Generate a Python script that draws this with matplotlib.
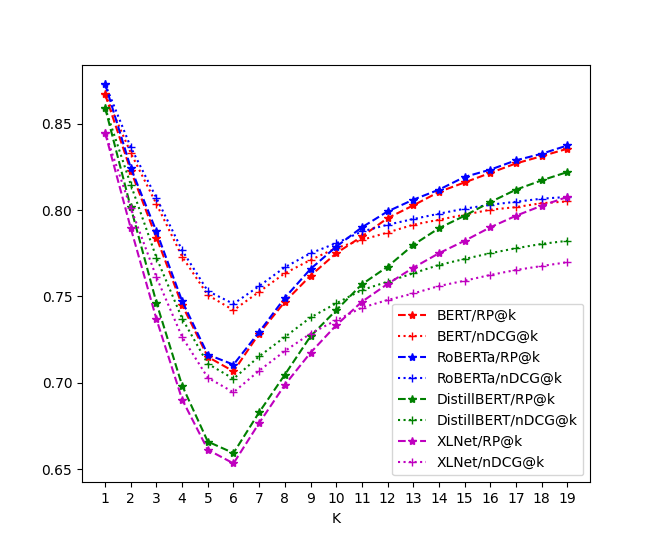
import matplotlib
matplotlib.use("Agg")
import matplotlib.pyplot as plt

K = list(range(1, 20))

bert_rp = [0.867, 0.8228, 0.784, 0.745, 0.715, 0.7066, 0.7285, 0.7469, 0.762, 0.775,
           0.7847, 0.7953, 0.8027, 0.8105, 0.816, 0.8215, 0.827, 0.8312, 0.8355]
bert_ndcg = [0.867, 0.8331, 0.8035, 0.773, 0.7508, 0.742, 0.7527, 0.7634, 0.7711, 0.778,
             0.7827, 0.787, 0.7915, 0.7944, 0.7973, 0.8002, 0.8017, 0.804, 0.805]
roberta_rp = [0.873, 0.8244, 0.7876, 0.7473, 0.7163, 0.7105, 0.7294, 0.7492, 0.7659, 0.7788,
              0.790, 0.7992, 0.806, 0.8118, 0.8192, 0.8234, 0.8288, 0.8326, 0.8374]
roberta_ndcg = [0.873, 0.8364, 0.807, 0.7767, 0.7531, 0.7457, 0.756, 0.7669, 0.775, 0.7808,
                0.7876, 0.7915, 0.7948, 0.7979, 0.8008, 0.8031, 0.8048, 0.8066, 0.8076]
distil_rp = [0.8593, 0.8015, 0.7463, 0.6984, 0.6659, 0.6593, 0.6829, 0.7047, 0.7269, 0.742,
             0.757, 0.7672, 0.7798, 0.7895, 0.7967, 0.8046, 0.8118, 0.8172, 0.822]
distil_ndcg = [0.8593, 0.8147, 0.7724, 0.7372, 0.711, 0.7023, 0.7153, 0.7265, 0.7378, 0.746,
               0.7537, 0.7585, 0.7634, 0.7682, 0.7717, 0.775, 0.7779, 0.7804, 0.7822]
xlnet_rp = [0.8448, 0.7895, 0.7368, 0.6903, 0.6612, 0.6533, 0.6767, 0.6988, 0.7174, 0.7333,
            0.7469, 0.7572, 0.7666, 0.775, 0.7822, 0.790, 0.7967, 0.8025, 0.8076]
xlnet_ndcg = [0.8448, 0.8012, 0.7611, 0.7265, 0.7029, 0.6945, 0.707, 0.7184, 0.7285, 0.7362,
              0.7435, 0.7479, 0.7517, 0.756, 0.7591, 0.7624, 0.7653, 0.7676, 0.7698]

series = [
    ("BERT/RP@k", bert_rp, "r", "--", "*"),
    ("BERT/nDCG@k", bert_ndcg, "r", ":", "+"),
    ("RoBERTa/RP@k", roberta_rp, "b", "--", "*"),
    ("RoBERTa/nDCG@k", roberta_ndcg, "b", ":", "+"),
    ("DistillBERT/RP@k", distil_rp, "g", "--", "*"),
    ("DistillBERT/nDCG@k", distil_ndcg, "g", ":", "+"),
    ("XLNet/RP@k", xlnet_rp, "m", "--", "*"),
    ("XLNet/nDCG@k", xlnet_ndcg, "m", ":", "+"),
]

fig, ax = plt.subplots(figsize=(6.56, 5.42), dpi=100)
for label, vals, c, ls, mk in series:
    ax.plot(K, vals, color=c, linestyle=ls, marker=mk, label=label)
ax.set_xticks(K)
ax.set_xlabel("K")
ax.legend(loc="lower right")
fig.savefig("out.png", dpi=100)
